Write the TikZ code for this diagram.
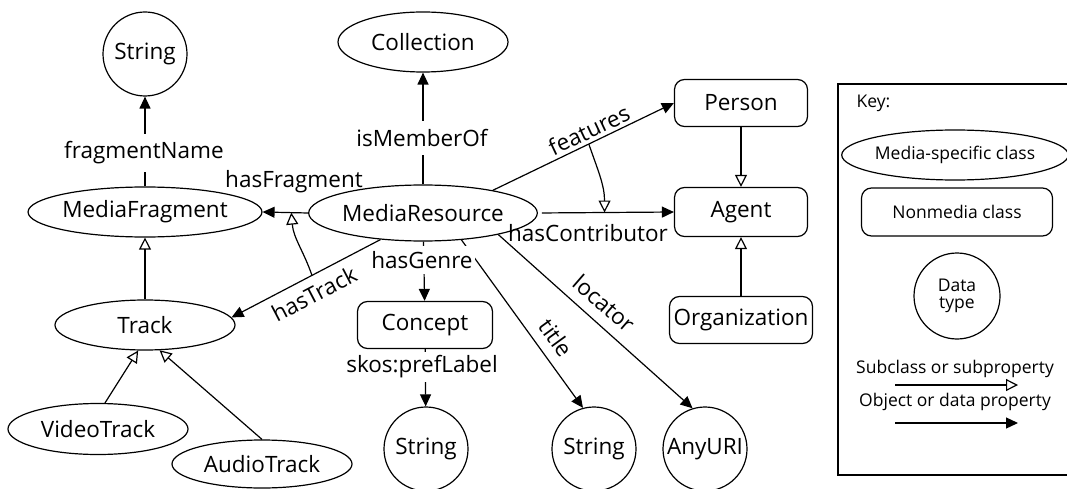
\documentclass[tikz,border=0pt]{standalone}
\usepackage{fontspec}
\setmainfont{Open Sans}
\usetikzlibrary{shapes.geometric,arrows.meta}
\begin{document}
\begin{tikzpicture}[x=1pt,y=1pt,
  every node/.style={font=\fontsize{22.5}{26}\selectfont},
  keyfont/.style={font=\fontsize{17.5}{20}\selectfont},
  ell/.style={draw, ellipse, inner sep=0pt, line width=1.2pt, minimum height=50pt},
  box/.style={draw, rounded corners=10pt, inner sep=0pt, line width=1.2pt, minimum height=47pt},
  dtype/.style={draw, circle, inner sep=0pt, line width=1.2pt, minimum size=84pt},
  prop/.style={line width=1.2pt, -{Triangle[length=12pt,width=11pt]}},
  sub/.style={line width=1.2pt, -{Triangle[open,length=12pt,width=12pt]}},
  lbl/.style={inner sep=1pt},
  brk/.style={fill=white, inner xsep=2pt, inner ysep=8pt}
]
\useasboundingbox (0,0) rectangle (1067,488);

% nodes
\node[dtype] (s1) at (145,434) {String};
\node[ell, minimum width=196pt] (mf) at (145,276) {MediaFragment};
\node[ell, minimum width=170pt, minimum height=60pt] (coll) at (423,446) {Collection};
\node[ell, minimum width=178pt, minimum height=56pt] (mr) at (423,275) {MediaResource};
\node[box, minimum width=133pt] (person) at (741,385) {Person};
\node[box, minimum width=133pt, minimum height=49pt] (agent) at (741,276) {Agent};
\node[box, minimum width=143pt] (org) at (741,168) {Organization};
\node[ell, minimum width=180pt] (track) at (145,163) {Track};
\node[ell, minimum width=180pt, minimum height=51pt] (video) at (98,59) {VideoTrack};
\node[ell, minimum width=180pt, minimum height=48pt] (audio) at (262,24) {AudioTrack};
\node[box, minimum width=135pt] (concept) at (425,163) {Concept};
\node[dtype] (s2) at (426,39) {String};
\node[dtype] (s3) at (594,39) {String};
\node[dtype] (uri) at (705,39) {AnyURI};

% connectors
\draw[prop] (mf) -- (s1);
\draw[prop] (mr) -- (coll);
\draw[prop] (mr.west) -- coordinate[pos=0.37] (hf) (mf.east);
\draw[prop] (mr.212) -- coordinate[pos=0.46] (ht) (track.5);
\draw[prop] (mr.18) -- coordinate[pos=0.53] (ft) (person.west);
\draw[prop, shorten <=4pt] (mr.east) -- coordinate[pos=0.49] (hc) (agent.west);
\draw[prop] (mr) -- (concept);
\draw[prop] (concept) -- (s2);
\draw[prop] (mr.-35) -- (s3.105);
\draw[prop] (mr.-16) -- (uri.107);
\draw[sub] (track) -- (mf);
\draw[sub] (video.75) -- (track.-105);
\draw[sub] (audio.90) -- (track.-60);
\draw[sub] (person) -- (agent);
\draw[sub] (org) -- (agent);
\draw[sub] (ht) to[out=109, in=-85] (hf);
\draw[sub] (ft) to[out=-71, in=90] (hc);

% labels
\node[brk] at (144,335) {fragmentName};
\node[brk] at (422,350) {isMemberOf};
\node[brk, inner ysep=5pt] at (422,228) {hasGenre};
\node[brk, inner ysep=4pt] at (422,121) {skos:prefLabel};
\node[lbl] at (294,306) {hasFragment};
\node[lbl] at (588,255) {hasContributor};
\node[lbl, rotate=25.3] at (589,358) {features};
\node[lbl, rotate=27.6] at (314,194) {hasTrack};
\node[lbl, rotate=-54] at (556,150) {title};
\node[lbl, rotate=-41] at (604,185) {locator};

% key
\draw[line width=1.2pt] (838,13) rectangle (1075,404);
\node[keyfont, anchor=west] (keyt) at (853,385) {Key:};
\node[ell, keyfont, minimum width=220pt] (k1) at (955,333) {Media-specific class};
\node[box, keyfont, minimum width=191pt, minimum height=48pt] (k2) at (957,276) {Nonmedia class};
\node[dtype, keyfont, minimum size=86pt, align=center] (k3) at (957,192) {Data\\[-3pt]type};
\node[keyfont] (k4) at (955,119) {Subclass or subproperty};
\node[keyfont] (k5) at (955,86) {Object or data property};
\coordinate (a1) at (895,103);
\coordinate (b1) at (1018,103);
\coordinate (a2) at (895,65);
\coordinate (b2) at (1018,65);
\draw[sub] (a1) -- (b1);
\draw[prop] (a2) -- (b2);
\end{tikzpicture}
\end{document}
